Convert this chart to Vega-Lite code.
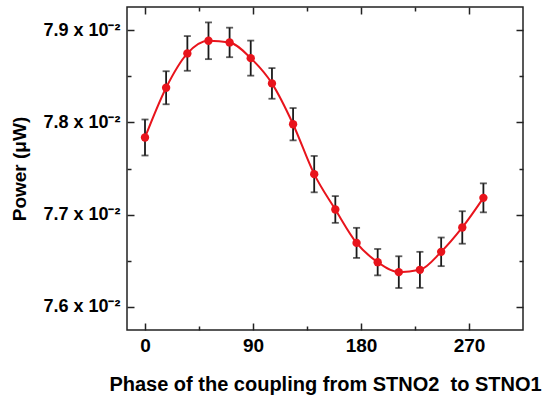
{
  "$schema": "https://vega.github.io/schema/vega-lite/v6.json",
  "width": 396,
  "height": 323,
  "autosize": "none",
  "padding": {"left": 127, "top": 7, "right": 30, "bottom": 69},
  "background": "white",
  "config": {
    "view": {"stroke": "#222", "strokeWidth": 1.5},
    "axis": {
      "domain": false,
      "grid": false,
      "labelFont": "Liberation Sans",
      "labelFontWeight": "bold",
      "labelFontSize": 18,
      "labelColor": "black",
      "titleFont": "Liberation Sans",
      "titleFontWeight": "bold",
      "titleFontSize": 19,
      "titleColor": "black",
      "tickColor": "#222",
      "tickWidth": 1.5
    }
  },
  "data": {
    "values": [
      {"phase": 0.0, "power": 0.077836, "err": 0.000195},
      {"phase": 17.6, "power": 0.078375, "err": 0.000179},
      {"phase": 35.3, "power": 0.078747, "err": 0.000188},
      {"phase": 52.9, "power": 0.078884, "err": 0.000199},
      {"phase": 70.5, "power": 0.078866, "err": 0.00016},
      {"phase": 88.1, "power": 0.078696, "err": 0.00019},
      {"phase": 105.8, "power": 0.078422, "err": 0.000166},
      {"phase": 123.4, "power": 0.07798, "err": 0.000175},
      {"phase": 141.0, "power": 0.077439, "err": 0.000197},
      {"phase": 158.6, "power": 0.077056, "err": 0.000145},
      {"phase": 176.3, "power": 0.076694, "err": 0.000163},
      {"phase": 193.9, "power": 0.076485, "err": 0.000143},
      {"phase": 211.5, "power": 0.076377, "err": 0.000172},
      {"phase": 229.1, "power": 0.076402, "err": 0.000195},
      {"phase": 246.8, "power": 0.076597, "err": 0.000155},
      {"phase": 264.4, "power": 0.076861, "err": 0.000176},
      {"phase": 282.0, "power": 0.077182, "err": 0.000157}
    ]
  },
  "resolve": {"axis": {"x": "independent", "y": "independent"}},
  "layer": [
    {
      "mark": {"type": "line", "color": "#e8141c", "strokeWidth": 2, "interpolate": "monotone"},
      "encoding": {
        "x": {
          "field": "phase", "type": "quantitative",
          "scale": {"domain": [-15, 315], "nice": false, "zero": false},
          "axis": {
            "orient": "bottom",
            "values": [0, 45, 90, 135, 180, 225, 270],
            "labelExpr": "datum.value % 90 === 0 ? datum.label : ''",
            "labelFontSize": 19,
            "tickSize": {"condition": {"test": "datum.value % 90 === 0", "value": -7}, "value": -4},
            "labelPadding": 13,
            "title": "Phase of the coupling from STNO2\u00a0 to STNO1",
            "titleFontSize": 20,
            "titlePadding": 19
          }
        },
        "y": {
          "field": "power", "type": "quantitative",
          "scale": {"domain": [0.07575, 0.07925], "nice": false, "zero": false},
          "axis": {
            "orient": "left",
            "values": [0.076, 0.0765, 0.077, 0.0775, 0.078, 0.0785, 0.079],
            "labelExpr": "abs(datum.value*1000 - round(datum.value*1000)) < 0.001 ? format(datum.value*100, '.1f') + ' x 10⁻²' : ''",
            "tickSize": {"condition": {"test": "abs(datum.value*1000 - round(datum.value*1000)) < 0.001", "value": -7}, "value": -4},
            "labelPadding": 14,
            "title": "Power (μW)",
            "titlePadding": 13
          }
        }
      }
    },
    {
      "mark": {"type": "errorbar", "ticks": {"size": 7}, "color": "#1a1a1a", "thickness": 1.8},
      "encoding": {
        "x": {"field": "phase", "type": "quantitative", "axis": null},
        "y": {"field": "power", "type": "quantitative", "axis": null},
        "yError": {"field": "err"}
      }
    },
    {
      "mark": {"type": "circle", "color": "#e8141c", "size": 70, "opacity": 1},
      "encoding": {
        "x": {"field": "phase", "type": "quantitative", "axis": null},
        "y": {"field": "power", "type": "quantitative", "axis": null}
      }
    },
    {
      "mark": {"type": "point", "opacity": 0},
      "encoding": {
        "x": {
          "field": "phase", "type": "quantitative",
          "axis": {
            "orient": "top", "labels": false, "title": null,
            "values": [0, 45, 90, 135, 180, 225, 270],
            "tickSize": {"condition": {"test": "datum.value % 90 === 0", "value": -7}, "value": -4}
          }
        },
        "y": {
          "field": "power", "type": "quantitative",
          "axis": {
            "orient": "right", "labels": false, "title": null,
            "values": [0.076, 0.0765, 0.077, 0.0775, 0.078, 0.0785, 0.079],
            "tickSize": {"condition": {"test": "abs(datum.value*1000 - round(datum.value*1000)) < 0.001", "value": -7}, "value": -4}
          }
        }
      }
    }
  ]
}
